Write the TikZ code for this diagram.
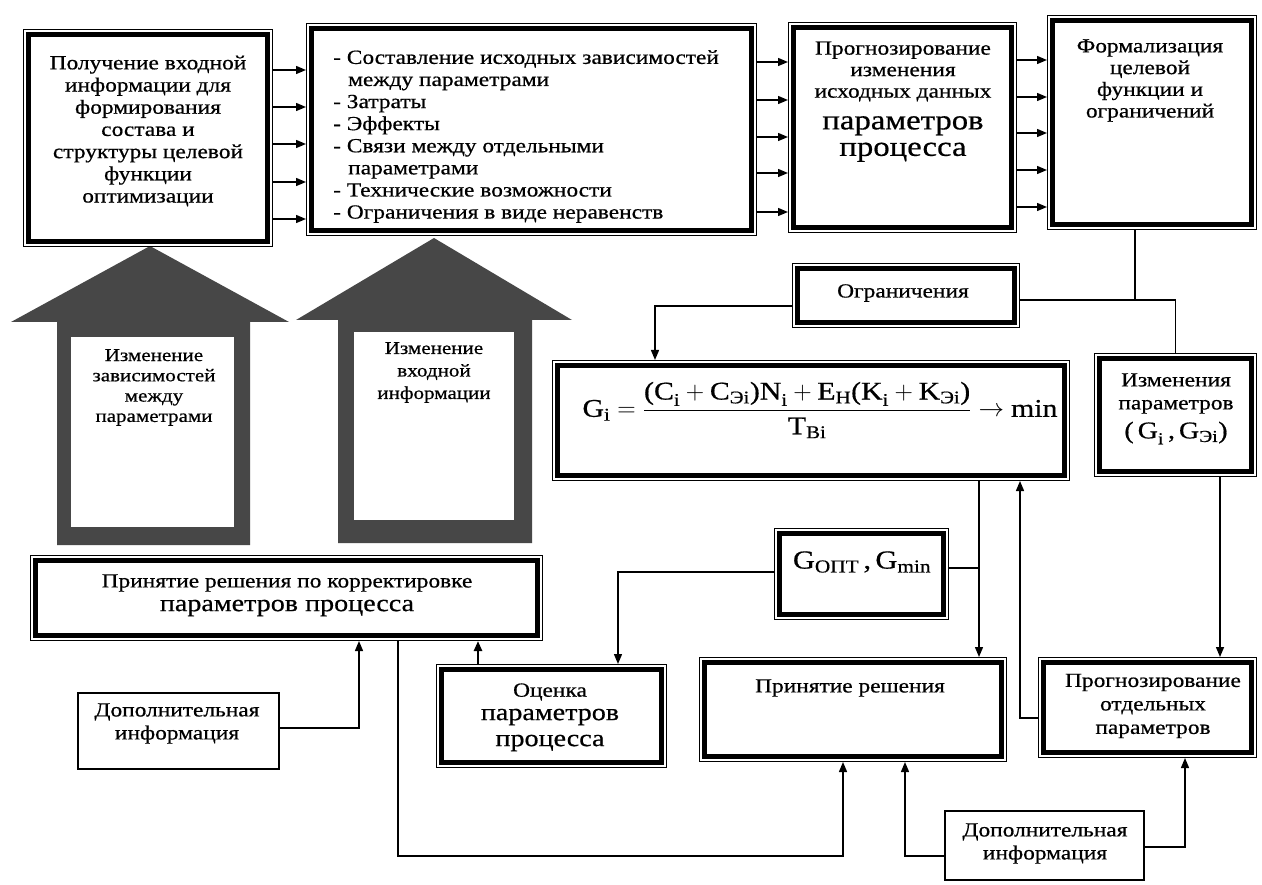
\RequirePackage{fix-cm}
\documentclass[tikz,border=0pt]{standalone}
\usepackage{amsmath}
\usepackage{fontspec}
\setmainfont{Liberation Serif}[FakeStretch=1.17, FakeBold=0.6]
\usetikzlibrary{arrows.meta}

% box with a thick frame and a thin outer rule
\tikzset{
  dbox/.style={draw=black, line width=5pt, fill=white, inner sep=0pt, outer sep=5.5pt,
    preaction={draw=black, line width=11pt},
    preaction={draw=white, line width=9pt}},
  sbox/.style={draw=black, line width=1.6pt, fill=white, inner sep=0pt, outer sep=0.8pt},
  link/.style={line width=1.4pt},
  arr/.style={link, -{Triangle[length=10pt,width=8pt]}},
  txt/.style={align=center, inner sep=0pt, font=\fontsize{20}{22}\selectfont},
  bigarrow/.style={fill=black!72},
}

% #1 name, #2..#5 outer bounds (x1,y1,x2,y2)
\newcommand\dboxat[5]{%
  \pgfmathsetmacro\bxc{(#2+#4)/2}%
  \pgfmathsetmacro\byc{(#3+#5)/2}%
  \pgfmathsetmacro\bwd{#4-#2-11}%
  \pgfmathsetmacro\bht{#5-#3-11}%
  \node[dbox, minimum width=\bwd pt, minimum height=\bht pt] (#1) at (\bxc,\byc) {};%
}
\newcommand\sboxat[5]{%
  \pgfmathsetmacro\bxc{(#2+#4)/2}%
  \pgfmathsetmacro\byc{(#3+#5)/2}%
  \pgfmathsetmacro\bwd{#4-#2-1.6}%
  \pgfmathsetmacro\bht{#5-#3-1.6}%
  \node[sbox, minimum width=\bwd pt, minimum height=\bht pt] (#1) at (\bxc,\byc) {};%
}

\begin{document}
\begin{tikzpicture}[x=1pt,y=-1pt]
\fill[white] (0,0) rectangle (1262,885);
\useasboundingbox (0,0) rectangle (1262,885);

% wide block arrows
\path[bigarrow] (150,246) -- (289,322) -- (250,322) -- (250,545) -- (57,545)
  -- (57,322) -- (11,322) -- cycle;
\fill[white] (71,337) rectangle (234,527);
\path[bigarrow] (434,238) -- (572,320) -- (532,320) -- (532,543) -- (338,543)
  -- (338,320) -- (296,320) -- cycle;
\fill[white] (354,332) rectangle (514,520);

% boxes
\dboxat{b1}{23}{29}{273}{247}
\dboxat{b2}{306}{23}{757}{236}
\dboxat{b3}{788}{22}{1017}{233}
\dboxat{b4}{1047}{15}{1257}{230}
\dboxat{ogr}{792}{263}{1020}{328}
\dboxat{frm}{552}{360}{1070}{481}
\dboxat{izm}{1094}{353}{1257}{477}
\dboxat{gopt}{774}{528}{949}{620}
\dboxat{prk}{30}{555}{543}{641}
\dboxat{ocn}{436}{664}{667}{768}
\dboxat{prd}{699}{657}{1007}{762}
\dboxat{prg}{1038}{657}{1257}{758}
\sboxat{dop1}{77}{692}{280}{770}
\sboxat{dop2}{944}{810}{1145}{881}

% texts
\node[txt, font=\fontsize{20}{22.2}\selectfont] (t1) at (148,131)
  {Получение входной\\информации для\\формирования\\состава и\\структуры целевой\\функции\\оптимизации};
\node[txt, align=left, anchor=west, font=\fontsize{20}{22.1}\selectfont] (t2) at (333,136.5)
  {- Составление исходных зависимостей\\\hspace*{0.75em}между параметрами\\- Затраты\\- Эффекты\\- Связи между отдельными\\\hspace*{0.75em}параметрами\\- Технические возможности\\- Ограничения в виде неравенств};
\node[txt, font=\fontsize{20}{21.5}\selectfont] (t3a) at (903,71.5)
  {Прогнозирование\\изменения\\исходных данных};
\node[txt, font=\fontsize{28}{26.5}\selectfont] (t3b) at (903,139)
  {параметров\\процесса};
\node[txt, font=\fontsize{20}{21.7}\selectfont] (t4) at (1150,80.5)
  {Формализация\\целевой\\функции и\\ограничений};
\node[txt] (tog) at (903,293) {Ограничения};
\node[txt, font=\fontsize{25.5}{28}\selectfont] (tf) at (820,410)
  {$\text{G}_{\text{i}} = \dfrac{\text{(C}_{\text{i}} + \text{C}_{\text{Эi}}\text{)N}_{\text{i}} + \text{E}_{\text{Н}}\text{(K}_{\text{i}} + \text{K}_{\text{Эi}}\text{)}}{\text{T}_{\text{Вi}}} \to \text{min}$};
\node[txt, font=\fontsize{20}{23}\selectfont] (tiza) at (1176,393.5) {Изменения\\параметров};
\node[txt, font=\fontsize{24}{26}\selectfont] (tizb) at (1176,433)
  {$\text{(\,G}_{\text{i}}\,\text{,}\,\text{G}_{\text{Эi}}\text{)}$};
\node[txt, font=\fontsize{26}{28}\selectfont] (tgo) at (862,562)
  {$\text{G}_{\text{ОПТ}}\,\text{,}\,\text{G}_{\text{min}}$};
\node[txt] (tpra) at (287,583) {Принятие решения по корректировке};
\node[txt, font=\fontsize{24}{26}\selectfont] (tprb) at (287,608) {параметров процесса};
\node[txt, font=\fontsize{20}{23}\selectfont] (td1) at (177,723.5) {Дополнительная\\информация};
\node[txt] (toca) at (550,692) {Оценка};
\node[txt, font=\fontsize{24}{26}\selectfont] (tocb) at (550,730) {параметров\\процесса};
\node[txt] (tpd) at (850,688) {Принятие решения};
\node[txt, font=\fontsize{20}{23.5}\selectfont] (tpg) at (1153,706)
  {Прогнозирование\\отдельных\\параметров};
\node[txt, font=\fontsize{20}{23}\selectfont] (td2) at (1045,843.5) {Дополнительная\\информация};
\node[txt, font=\fontsize{18}{20.3}\selectfont] (tpl) at (154,387.5)
  {Изменение\\зависимостей\\между\\параметрами};
\node[txt, font=\fontsize{18}{22.5}\selectfont] (tpr) at (434,372.5)
  {Изменение\\входной\\информации};

% arrows between the top blocks
\foreach \yy [count=\k] in {70,107,144,182,219}
  {\coordinate (pa\k) at (0,\yy); \draw[arr] (b1.east |- pa\k) -- (b2.west |- pa\k);}
\foreach \yy [count=\k] in {62,100,137,173,212}
  {\coordinate (pb\k) at (0,\yy); \draw[arr] (b2.east |- pb\k) -- (b3.west |- pb\k);}
\foreach \yy [count=\k] in {60,97,133,170,207}
  {\coordinate (pc\k) at (0,\yy); \draw[arr] (b3.east |- pc\k) -- (b4.west |- pc\k);}

% lower connectors
\coordinate (j1) at (1135,300);
\draw[link] (b4.south -| j1) -- (j1);
\draw[link] (ogr.east |- j1) -| (izm.north);
\coordinate (j2) at (655,306);
\draw[arr] (ogr.west |- j2) -| (frm.north -| j2);
\coordinate (v1) at (979,568);
\draw[arr] (frm.south -| v1) -- (prd.north -| v1);
\draw[link] (gopt.east |- v1) -- (v1);
\coordinate (j3) at (618,572);
\draw[arr] (gopt.west |- j3) -| (ocn.north -| j3);
\coordinate (j4) at (1020,718);
\draw[arr] (prg.west |- j4) -| (frm.south -| j4);
\coordinate (j5) at (1220,0);
\draw[arr] (izm.south -| j5) -- (prg.north -| j5);
\coordinate (j6) at (478,0);
\draw[arr, line width=2.4pt] (ocn.north -| j6) -- (prk.south -| j6);
\coordinate (j7) at (359,728);
\draw[arr] (dop1.east |- j7) -| (prk.south -| j7);
\coordinate (j8) at (398,856);
\coordinate (j9) at (843,856);
\draw[arr] (prk.south -| j8) -- (j8) -- (j9) -- (prd.south -| j9);
\coordinate (j10) at (905,856);
\draw[arr] (dop2.west |- j10) -| (prd.south -| j10);
\coordinate (j11) at (1185,847);
\draw[arr] (dop2.east |- j11) -| (prg.south -| j11);
\end{tikzpicture}
\end{document}
